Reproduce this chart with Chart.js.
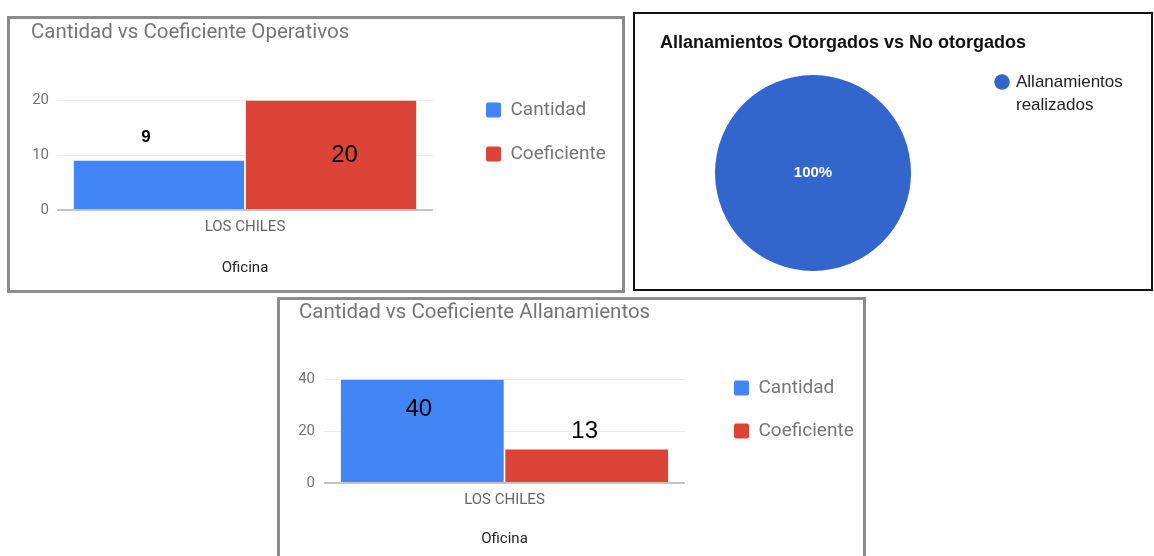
<!DOCTYPE html>
<html>
<head>
<meta charset="utf-8">
<script src="https://cdn.jsdelivr.net/npm/chart.js@4.4.0/dist/chart.umd.min.js"></script>
<style>
  body { margin: 0; width: 1154px; height: 556px; overflow: hidden; background: #fff; position: relative; }
  .box { position: absolute; box-sizing: border-box; background: #fff; }
  .box canvas { display: block; }
  #b1 { left: 7px; top: 16px; width: 618px; height: 277px; border: 3px solid #8c8c8c; }
  #b2 { left: 633px; top: 12px; width: 520px; height: 279px; border: 2px solid #111; }
  #b3 { left: 277px; top: 297px; width: 589px; height: 270px; border: 3px solid #8c8c8c; }
</style>
</head>
<body>
<div class="box" id="b1"><canvas id="operativos" width="612" height="271"></canvas></div>
<div class="box" id="b2"><canvas id="otorgados" width="516" height="275"></canvas></div>
<div class="box" id="b3"><canvas id="allanamientos" width="583" height="264"></canvas></div>
<script>
  // data
  var oficinas = ['LOS CHILES'];
  var operativosCantidad = [9];
  var operativosCoeficiente = [20];
  var operativosTicks = [0, 10, 20];
  var allanamientosCantidad = [40];
  var allanamientosCoeficiente = [13];
  var allanamientosTicks = [0, 20, 40];
  var pieLabels = [['Allanamientos', 'realizados']];
  var pieValues = [100];

  var blue = '#4285F4';
  var red = '#DB4437';
  var grey = '#757575';

  // numbers written on the bars (offsets are relative to the bar top)
  var valueLabels = {
    id: 'valueLabels',
    afterDatasetsDraw: function(chart, args, opts) {
      var ctx = chart.ctx;
      chart.data.datasets.forEach(function(ds, i) {
        var st = opts.styles[i];
        chart.getDatasetMeta(i).data.forEach(function(bar, j) {
          ctx.save();
          ctx.font = st.font;
          ctx.fillStyle = '#000';
          ctx.textAlign = 'center';
          ctx.textBaseline = 'middle';
          ctx.fillText(ds.data[j], bar.x + st.dx, bar.y + st.dy);
          ctx.restore();
        });
      });
    }
  };

  var pctLabel = {
    id: 'pctLabel',
    afterDatasetsDraw: function(chart) {
      var ctx = chart.ctx;
      var data = chart.data.datasets[0].data;
      var total = data.reduce(function(a, b) { return a + b; }, 0);
      chart.getDatasetMeta(0).data.forEach(function(arc, i) {
        var full = arc.circumference >= 2 * Math.PI - 1e-6;
        var p = full ? { x: arc.x, y: arc.y } : arc.tooltipPosition();
        ctx.save();
        ctx.font = 'bold 15px "Liberation Sans", Arial, sans-serif';
        ctx.fillStyle = '#fff';
        ctx.textAlign = 'center';
        ctx.textBaseline = 'middle';
        ctx.fillText(Math.round(data[i] / total * 100) + '%', p.x, p.y);
        ctx.restore();
      });
    }
  };

  function barChart(id, title, cantidad, coeficiente, ticks, lay) {
    return new Chart(id, {
      type: 'bar',
      data: {
        labels: oficinas,
        datasets: [
          { label: 'Cantidad', data: cantidad, backgroundColor: blue, borderWidth: 0,
            categoryPercentage: lay.cat, barPercentage: 0.99 },
          { label: 'Coeficiente', data: coeficiente, backgroundColor: red, borderWidth: 0,
            categoryPercentage: lay.cat, barPercentage: 0.99 }
        ]
      },
      options: {
        responsive: false,
        animation: false,
        layout: { padding: { left: lay.left, top: 0, right: lay.right, bottom: 0 } },
        scales: {
          y: {
            min: ticks[0],
            max: ticks[ticks.length - 1],
            ticks: { stepSize: ticks[1] - ticks[0], color: grey, padding: lay.tickPad,
                     font: { family: 'Roboto', size: 15 } },
            grid: {
              drawTicks: false,
              color: function(c) { return c.tick && c.tick.value === 0 ? '#c4c4c4' : '#ebebeb'; },
              lineWidth: function(c) { return c.tick && c.tick.value === 0 ? 2 : 1; }
            },
            border: { display: false },
            afterFit: function(s) { s.width = lay.yWidth; }
          },
          x: {
            grid: { display: false, drawTicks: false },
            border: { display: false },
            ticks: { color: '#666', padding: 8, font: { family: 'Roboto', size: 15 } },
            title: { display: true, text: 'Oficina', color: '#222',
                     font: { family: 'Roboto', size: 15 }, padding: { top: 0, bottom: lay.xTitlePad } },
            afterFit: function(s) { s.height = lay.xHeight; }
          },
          // empty axis, only keeps the gap between plot and legend
          gap: {
            type: 'linear', position: 'right',
            grid: { display: false, drawTicks: false }, border: { display: false },
            ticks: { display: false },
            afterFit: function(s) { s.width = lay.gap; }
          }
        },
        plugins: {
          title: {
            display: true, text: title, align: 'start', color: grey,
            font: { family: 'Roboto', size: 20.5, weight: 'normal' },
            padding: { top: lay.titleTop, bottom: lay.titleBottom }
          },
          legend: {
            position: 'right', align: 'start', maxWidth: 145,
            title: { display: true, text: ' ', font: { size: 10 }, padding: { top: 0, bottom: lay.legendTop } },
            labels: { boxWidth: 15, boxHeight: 15, padding: lay.legendPad, color: grey,
                      useBorderRadius: true, borderRadius: 2,
                      font: { family: 'Roboto', size: 19 } }
          },
          tooltip: { enabled: false },
          valueLabels: { styles: lay.labels }
        }
      },
      plugins: [valueLabels]
    });
  }

  barChart('operativos', 'Cantidad vs Coeficiente Operativos',
    operativosCantidad, operativosCoeficiente, operativosTicks, {
      cat: 0.915, left: 21, right: 16, tickPad: 8, yWidth: 26, xHeight: 80, xTitlePad: 13,
      gap: 28, titleTop: 2, titleBottom: 55, legendTop: 44.5, legendPad: 25,
      labels: [
        { font: 'bold 17px "Liberation Sans Narrow", "Liberation Sans", sans-serif', dx: -13, dy: -23.5 },
        { font: '24px "Liberation Sans Narrow", "Liberation Sans", sans-serif', dx: 13.5, dy: 55 }
      ]
    });

  barChart('allanamientos', 'Cantidad vs Coeficiente Allanamientos',
    allanamientosCantidad, allanamientosCoeficiente, allanamientosTicks, {
      cat: 0.911, left: 19, right: 8, tickPad: 9, yWidth: 25, xHeight: 81, xTitlePad: 16,
      gap: 25, titleTop: 1, titleBottom: 54, legendTop: 42.5, legendPad: 24,
      labels: [
        { font: '24px "Liberation Sans", Arial, sans-serif', dx: -3.5, dy: 30 },
        { font: '24px "Liberation Sans", Arial, sans-serif', dx: -2, dy: -18 }
      ]
    });

  new Chart('otorgados', {
    type: 'pie',
    data: {
      labels: pieLabels,
      datasets: [{ data: pieValues, backgroundColor: ['#3366CC'], borderWidth: 0 }]
    },
    options: {
      responsive: false,
      animation: false,
      layout: { padding: { left: 25, top: 0, right: 25, bottom: 18 } },
      plugins: {
        title: {
          display: true, text: 'Allanamientos Otorgados vs No otorgados', align: 'start', color: '#111',
          font: { family: '"Liberation Sans", Arial, sans-serif', size: 18, weight: 'bold' },
          padding: { top: 18.2, bottom: 21.2 }
        },
        legend: {
          position: 'right', align: 'start', maxWidth: 160,
          title: { display: true, text: ' ', font: { size: 10 }, padding: { top: 0, bottom: 17 } },
          labels: { usePointStyle: true, pointStyle: 'circle', boxWidth: 11, boxHeight: 11,
                    padding: 30.5, color: '#222',
                    font: { family: '"Liberation Sans", Arial, sans-serif', size: 17, lineHeight: 1.35 } }
        },
        tooltip: { enabled: false }
      }
    },
    plugins: [pctLabel]
  });
</script>
</body>
</html>
